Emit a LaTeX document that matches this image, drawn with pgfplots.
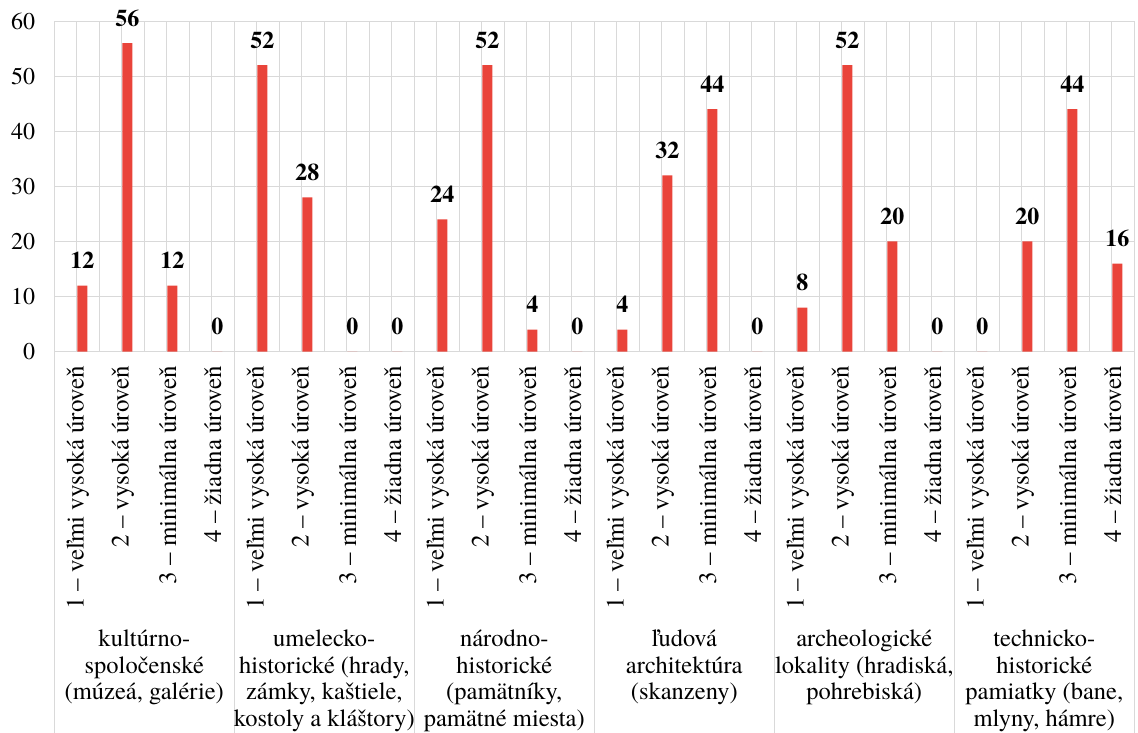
\documentclass[border=0pt]{standalone}
\usepackage{fontspec}
\setmainfont{texgyretermes}[Extension=.otf, UprightFont=*-regular, BoldFont=*-bold, ItalicFont=*-italic, BoldItalicFont=*-bolditalic]
\usepackage{pgfplots}
\pgfplotsset{compat=1.18}
\definecolor{barred}{HTML}{E9443A}
\definecolor{gridc}{HTML}{D9D9D9}
\begin{document}
\begin{tikzpicture}
\path[use as bounding box] (-54.3pt,-381.3pt) rectangle (1083.7pt,351.7pt);
\begin{axis}[
  at={(0pt,0pt)}, anchor=south west,
  scale only axis, width=1080pt, height=330.7pt,
  xmin=0.5, xmax=24.5, ymin=0, ymax=60,
  clip=false,
  axis line style={draw=none},
  xtick={1,...,24},
  minor xtick={0.5,1.5,...,24.5},
  ytick={0,10,...,60},
  major tick length=0pt, minor tick length=0pt,
  xmajorgrids, xminorgrids, ymajorgrids,
  major grid style={gridc, line width=1pt},
  minor grid style={gridc, line width=1pt},
  /pgf/number format/assume math mode=true,
  yticklabel style={font=\fontsize{24}{27}\selectfont, anchor=east, inner sep=0pt, xshift=-19pt},
  xticklabels={1 – veľmi vysoká úroveň, 2 – vysoká úroveň, 3 – minimálna úroveň, 4 – žiadna úroveň,
               1 – veľmi vysoká úroveň, 2 – vysoká úroveň, 3 – minimálna úroveň, 4 – žiadna úroveň,
               1 – veľmi vysoká úroveň, 2 – vysoká úroveň, 3 – minimálna úroveň, 4 – žiadna úroveň,
               1 – veľmi vysoká úroveň, 2 – vysoká úroveň, 3 – minimálna úroveň, 4 – žiadna úroveň,
               1 – veľmi vysoká úroveň, 2 – vysoká úroveň, 3 – minimálna úroveň, 4 – žiadna úroveň,
               1 – veľmi vysoká úroveň, 2 – vysoká úroveň, 3 – minimálna úroveň, 4 – žiadna úroveň},
  xticklabel style={font=\fontsize{25}{28}\selectfont, yshift=-14pt, xshift=1pt, rotate=90, anchor=east, inner sep=0pt},
  ybar, bar width=10pt,
  nodes near coords,
  every node near coord/.append style={font=\fontsize{24}{27}\selectfont\bfseries, anchor=base, yshift=17pt, inner sep=0pt},
]
\addplot[fill=barred, draw=none, bar shift=5.5pt] coordinates {
 (1,12) (2,56) (3,12) (4,0)
 (5,52) (6,28) (7,0) (8,0)
 (9,24) (10,52) (11,4) (12,0)
 (13,4) (14,32) (15,44) (16,0)
 (17,8) (18,52) (19,20) (20,0)
 (21,0) (22,20) (23,44) (24,16)
};
\draw[gridc, line width=1pt] (axis cs:0.5,0) -- ++(0pt,-381.3pt);
\draw[gridc, line width=1pt] (axis cs:4.5,0) -- ++(0pt,-381.3pt);
\draw[gridc, line width=1pt] (axis cs:8.5,0) -- ++(0pt,-381.3pt);
\draw[gridc, line width=1pt] (axis cs:12.5,0) -- ++(0pt,-381.3pt);
\draw[gridc, line width=1pt] (axis cs:16.5,0) -- ++(0pt,-381.3pt);
\draw[gridc, line width=1pt] (axis cs:20.5,0) -- ++(0pt,-381.3pt);
\draw[gridc, line width=1pt] (axis cs:24.5,0) -- ++(0pt,-381.3pt);
\tikzset{grp/.style={anchor=north, align=center, inner sep=0pt, font=\fontsize{24.5}{26.7}\selectfont}}
\node[grp] at ([yshift=-277.8pt]axis cs:2.5,0) {kultúrno-\\spoločenské\\(múzeá, galérie)};
\node[grp] at ([yshift=-277.8pt]axis cs:6.5,0) {umelecko-\\historické (hrady,\\zámky, kaštiele,\\kostoly a kláštory)};
\node[grp] at ([yshift=-277.8pt]axis cs:10.5,0) {národno-\\historické\\(pamätníky,\\pamätné miesta)};
\node[grp] at ([yshift=-277.8pt]axis cs:14.5,0) {ľudová\\architektúra\\(skanzeny)};
\node[grp] at ([yshift=-277.8pt]axis cs:18.5,0) {archeologické\\lokality (hradiská,\\pohrebiská)};
\node[grp] at ([yshift=-277.8pt]axis cs:22.5,0) {technicko-\\historické\\pamiatky (bane,\\mlyny, hámre)};
\end{axis}
\end{tikzpicture}
\end{document}
